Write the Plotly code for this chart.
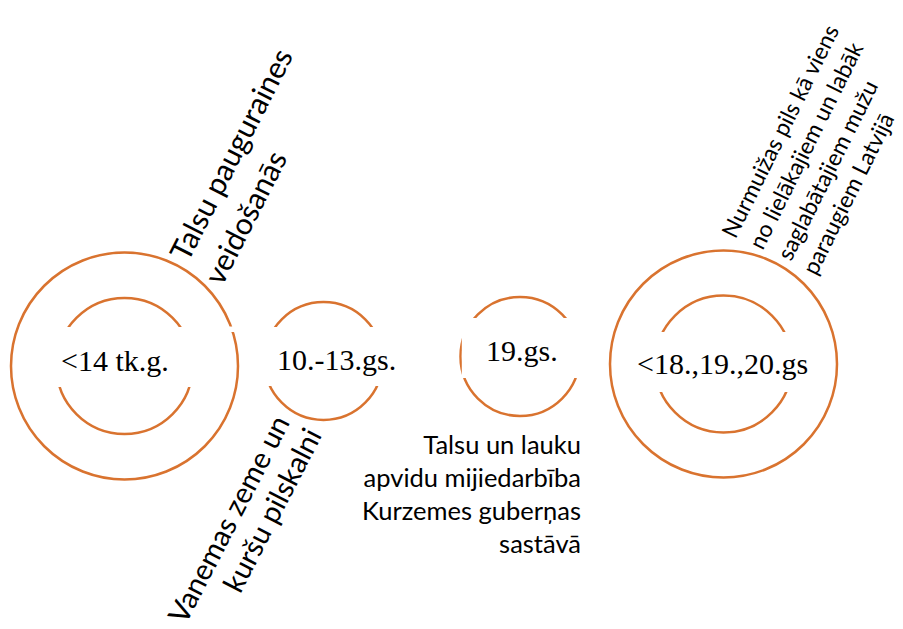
import math
import plotly.graph_objects as go

# ---- data ----
era_labels = ["<14 tk.g.", "10.-13.gs.", "19.gs.", "<18.,19.,20.gs"]
ring_cx = [124.5, 323.5, 520.0, 723.5]
ring_cy = [366.0, 361.0, 356.5, 364.0]
outer_r = [113.5, 0, 0, 113.5]
inner_r = [68.0, 59.0, 59.5, 68.5]

talsu_lines = ["Talsu pauguraines", "veidošanās"]
nurm_lines = ["Nurmuižas pils kā viens", "no lielākajiem un labāk",
              "saglabātajiem mužu", "paraugiem Latvijā"]
vanemas_lines = ["Vanemas zeme un", "kuršu pilskalni"]
bottom_lines = ["Talsu un lauku", "apvidu mijiedarbība",
                "Kurzemes guberņas", "sastāvā"]

ORANGE = "#D9732F"
W, H = 903, 629

fig = go.Figure()
fig.add_trace(go.Scatter(x=[0], y=[0], mode="markers",
                         marker=dict(opacity=0), hoverinfo="skip", showlegend=False))

shapes = []
for cx, cy, ro, ri in zip(ring_cx, ring_cy, outer_r, inner_r):
    for r in (ro, ri):
        if r > 0:
            shapes.append(dict(type="circle", xref="x", yref="y",
                               x0=cx - r, x1=cx + r, y0=cy - r, y1=cy + r,
                               line=dict(color=ORANGE, width=2.5)))
# white label boxes covering parts of inner rings
masks = [(52, 197, 327, 387), (262, 386, 327, 386), (461.8, 583, 318, 378),
         (650, 798, 332, 392), (227, 241, 326.5, 332)]
for x0, x1, y0, y1 in masks:
    shapes.append(dict(type="rect", xref="x", yref="y", x0=x0, x1=x1, y0=y0, y1=y1,
                       fillcolor="white", line=dict(width=0)))

annotations = []
era_pos = [(115, 360.5), (336.5, 359.5), (521.7, 350), (722.5, 363.5)]
for lab, (x, y) in zip(era_labels, era_pos):
    annotations.append(dict(x=x, y=y, xref="x", yref="y", text=lab, showarrow=False,
                            xanchor="center", yanchor="middle",
                            font=dict(family="Liberation Serif", size=30, color="black")))


def rotated_block(lines, origin, angle, spacing, widths, fs, align, full, dn=10, du=0):
    a = math.radians(angle)
    u = (math.cos(a), -math.sin(a))
    n = (math.sin(a), math.cos(a))
    c = 0.387 * fs
    for i, (txt, w) in enumerate(zip(lines, widths)):
        off = 0 if align == "left" else (full - w)
        s = off + w / 2 + du
        t = i * spacing - c + dn
        x = origin[0] + s * u[0] + t * n[0]
        y = origin[1] + s * u[1] + t * n[1]
        annotations.append(dict(x=x, y=y, xref="x", yref="y", text=txt, showarrow=False,
                                xanchor="center", yanchor="middle", textangle=-angle,
                                font=dict(family="Lato", size=fs, color="black")))


rotated_block(talsu_lines, (176, 264), 63.0, 41, [245, 146], 30, "left", 245, dn=10)
rotated_block(nurm_lines, (726, 237), 63.6, 29.5, [245, 243, 218, 195], 23, "left", 245,
              dn=10, du=-4)
rotated_block(vanemas_lines, (171, 633), 62.7, 35, [242, 187], 29, "right", 244, dn=9, du=5)

annotations.append(dict(x=583, y=493, xref="x", yref="y", text="<br>".join(bottom_lines),
                        showarrow=False, xanchor="right", yanchor="middle", align="right",
                        font=dict(family="Lato", size=25.5, color="black")))

fig.update_layout(
    width=W, height=H, autosize=False,
    margin=dict(l=0, r=0, t=0, b=0),
    paper_bgcolor="white", plot_bgcolor="white",
    xaxis=dict(range=[0, W], visible=False, fixedrange=True),
    yaxis=dict(range=[H, 0], visible=False, fixedrange=True),
    shapes=shapes, annotations=annotations, showlegend=False,
)
fig.write_html("out.html", config={"displayModeBar": False},
               post_script="document.body.style.margin='0';document.body.style.overflow='hidden';")
